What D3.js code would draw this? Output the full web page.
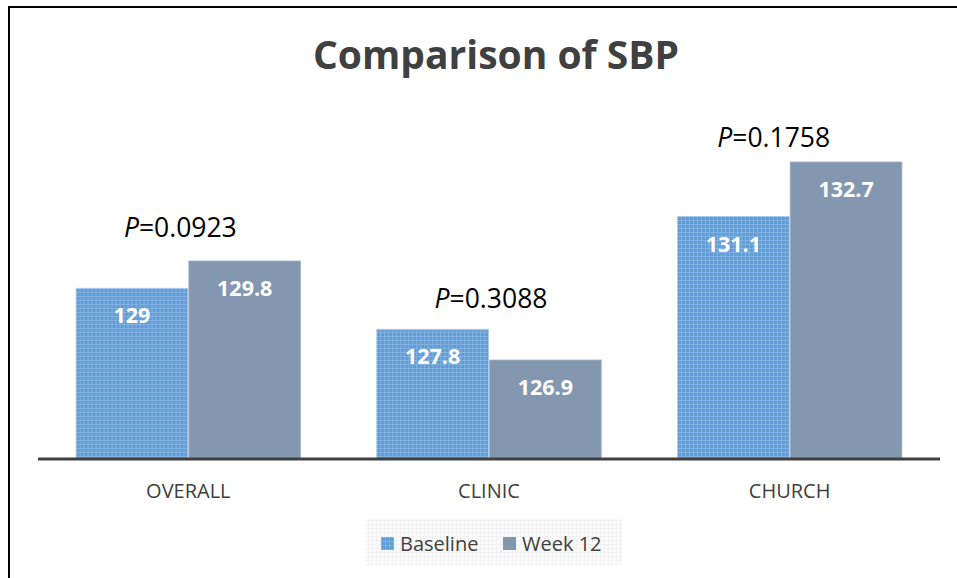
<!DOCTYPE html>
<html>
<head>
<meta charset="utf-8">
<script src="https://cdn.jsdelivr.net/npm/d3@7"></script>
<style>
  body { margin: 0; background: #fff; }
  svg { display: block; font-family: "Open Sans", Lato, sans-serif; }
</style>
</head>
<body>
<div id="chart"></div>
<script>
// Chart data
const categories = ["OVERALL", "CLINIC", "CHURCH"];
const seriesNames = ["Baseline", "Week 12"];
const baseline = [129, 127.8, 131.1];
const week12 = [129.8, 126.9, 132.7];
const pValues = ["0.0923", "0.3088", "0.1758"];

const W = 957, H = 578;
const colors = { "Baseline": "#5b9bd5", "Week 12": "#8497b0" };

// small nudges for the hand-placed P labels
const pNudge = [{ dx: -8, dy: -24 }, { dx: 2, dy: -21 }, { dx: -16, dy: -15 }];

const svg = d3.select("#chart").append("svg")
  .attr("width", W)
  .attr("height", H);

// textured fill for the baseline bars
const defs = svg.append("defs");
const pat = defs.append("pattern")
  .attr("id", "dots")
  .attr("width", 4).attr("height", 4)
  .attr("patternUnits", "userSpaceOnUse");
pat.append("rect").attr("width", 4).attr("height", 4).attr("fill", "#5b9bd5");
pat.append("rect").attr("x", 0).attr("y", 0).attr("width", 1).attr("height", 4).attr("fill", "#82b2e2");
pat.append("rect").attr("x", 0).attr("y", 0).attr("width", 4).attr("height", 1).attr("fill", "#82b2e2");
pat.append("rect").attr("x", 2).attr("y", 2).attr("width", 1).attr("height", 1).attr("fill", "#6ea6dc");

const legPat = defs.append("pattern")
  .attr("id", "legbg")
  .attr("width", 4).attr("height", 4)
  .attr("patternUnits", "userSpaceOnUse");
legPat.append("rect").attr("width", 4).attr("height", 4).attr("fill", "#fbfbfb");
legPat.append("rect").attr("width", 1).attr("height", 4).attr("fill", "#f2f2f2");
legPat.append("rect").attr("width", 4).attr("height", 1).attr("fill", "#f2f2f2");

// outer frame (left and top edges only visible)
svg.append("path")
  .attr("d", `M9,${H} L9,7 L${W},7`)
  .attr("fill", "none")
  .attr("stroke", "#000")
  .attr("stroke-width", 2);

// Title
svg.append("text")
  .attr("x", 496)
  .attr("y", 69)
  .attr("text-anchor", "middle")
  .attr("font-size", 39)
  .attr("font-weight", "bold")
  .attr("fill", "#404040")
  .text("Comparison of SBP");

// Scales
const x0 = d3.scaleBand()
  .domain(categories)
  .range([38, 940])
  .paddingInner(0.25)
  .paddingOuter(0.125);

const x1 = d3.scaleBand()
  .domain(seriesNames)
  .range([0, x0.bandwidth()]);

const y = d3.scaleLinear()
  .domain([124, 134])
  .range([459, 117.6]);

const rows = categories.map((c, i) => ({
  cat: c,
  vals: [
    { key: "Baseline", value: baseline[i] },
    { key: "Week 12", value: week12[i] }
  ],
  p: pValues[i],
  i: i
}));

const groups = svg.append("g").selectAll("g")
  .data(rows)
  .join("g")
  .attr("transform", d => `translate(${x0(d.cat)},0)`);

groups.selectAll("rect")
  .data(d => d.vals)
  .join("rect")
  .attr("x", d => x1(d.key) + 0.5)
  .attr("y", d => y(d.value))
  .attr("width", x1.bandwidth() - 1)
  .attr("height", d => y.range()[0] - y(d.value))
  .attr("fill", d => d.key === "Baseline" ? "url(#dots)" : colors[d.key])
  .attr("stroke", d => d.key === "Baseline" ? "#a9cbed" : "#a6b4c8")
  .attr("stroke-width", 0.8);

// value labels inside bars
groups.selectAll("text.val")
  .data(d => d.vals)
  .join("text")
  .attr("class", "val")
  .attr("x", d => x1(d.key) + x1.bandwidth() / 2)
  .attr("y", d => y(d.value) + 35)
  .attr("text-anchor", "middle")
  .attr("font-size", 21.5)
  .attr("font-weight", "bold")
  .attr("fill", "#fff")
  .text(d => d.value);

// P-value labels
const pText = groups.append("text")
  .attr("x", d => x0.bandwidth() / 2 + pNudge[d.i].dx)
  .attr("y", d => y(d3.max(d.vals, v => v.value)) + pNudge[d.i].dy)
  .attr("text-anchor", "middle")
  .attr("font-size", 26.5)
  .attr("fill", "#000");
pText.append("tspan").attr("font-style", "italic").text("P");
pText.append("tspan").text(d => "=" + d.p);

// x axis
const xAxis = svg.append("g")
  .attr("transform", `translate(0,${y.range()[0]})`)
  .call(d3.axisBottom(x0).tickSize(0));
xAxis.select(".domain")
  .attr("stroke", "#404040")
  .attr("stroke-width", 3)
  .attr("d", "M38,0H940");
xAxis.selectAll("text")
  .attr("y", 39)
  .attr("dy", null)
  .attr("font-family", "'Open Sans', Lato, sans-serif")
  .attr("font-size", 20)
  .attr("fill", "#404040");

// Legend
const legend = svg.append("g");
legend.append("rect")
  .attr("x", 366).attr("y", 519)
  .attr("width", 256).attr("height", 46)
  .attr("fill", "url(#legbg)");

const legX = [381, 503];
const items = legend.selectAll("g.item")
  .data(seriesNames)
  .join("g")
  .attr("class", "item")
  .attr("transform", (d, i) => `translate(${legX[i]},537)`);
items.append("rect")
  .attr("width", 13).attr("height", 13)
  .attr("fill", d => d === "Baseline" ? "url(#dots)" : colors[d]);
items.append("text")
  .attr("x", 19)
  .attr("y", 13.5)
  .attr("font-size", 20)
  .attr("fill", "#404040")
  .text(d => d);
</script>
</body>
</html>
